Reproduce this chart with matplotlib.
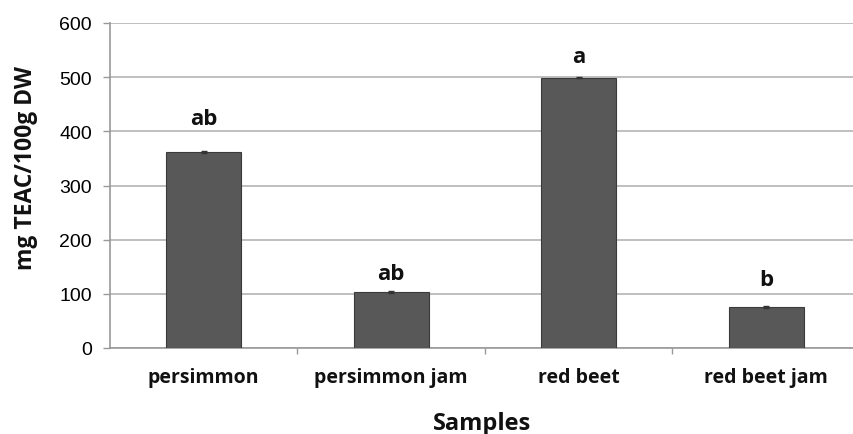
import matplotlib
matplotlib.use("Agg")
import matplotlib.pyplot as plt

categories = ["persimmon", "persimmon jam", "red beet", "red beet jam"]
values = [362, 103, 499, 76]
errors = [2, 2, 1, 2]
letters = ["ab", "ab", "a", "b"]
letter_heights = [423, 138, 539, 127]
yticks = [0, 100, 200, 300, 400, 500, 600]

W, H = 854, 435
fig = plt.figure(figsize=(W / 100, H / 100), dpi=100)
ax = fig.add_axes([110 / W, (H - 349) / H, 750 / W, 325 / H])

x = range(len(categories))
ax.bar(x, values, width=0.4, color="#585858", edgecolor="#3a3a3a", linewidth=0.8, zorder=3)
ax.errorbar(x, values, yerr=errors, fmt="none", ecolor="#333333", elinewidth=0.8,
            capsize=2, zorder=4)

for xi, h, lab in zip(x, letter_heights, letters):
    ax.text(xi, h, lab, ha="center", va="center", fontsize=16,
            fontweight="bold", family="Open Sans", color="#111111")

ax.set_xlim(-0.5, 3.5)
ax.set_ylim(0, 600)
ax.set_yticks(yticks)
ax.set_yticklabels([str(t) for t in yticks], family="Liberation Sans", fontsize=14)
ax.grid(axis="y", color="#b4b4b4", linewidth=1.2, zorder=0)

ax.set_xticks([0.5, 1.5, 2.5])
ax.set_xticklabels([])
ax.tick_params(axis="x", length=4, color="#999999", width=1)
ax.tick_params(axis="y", length=5, color="#999999", width=1, pad=8)
for xi, c in zip(x, categories):
    ax.text(xi, -0.09, c, transform=ax.get_xaxis_transform(), ha="center", va="center",
            fontsize=14, fontweight="bold", family="Open Sans", color="#111111")

for side in ["top", "right"]:
    ax.spines[side].set_visible(False)
ax.spines["left"].set_color("#999999")
ax.spines["bottom"].set_color("#999999")
ax.spines["left"].set_linewidth(1.2)
ax.spines["bottom"].set_linewidth(1.2)

fig.text(482 / W, 1 - 424 / H, "Samples", ha="center", va="center", fontsize=17,
         fontweight="bold", family="Open Sans", color="#111111")
fig.text(26 / W, 1 - 168 / H, "mg TEAC/100g DW", ha="center", va="center", rotation=90,
         fontsize=16.5, fontweight="bold", family="Open Sans", color="#111111")

fig.savefig("out.png", dpi=100, facecolor="white")
